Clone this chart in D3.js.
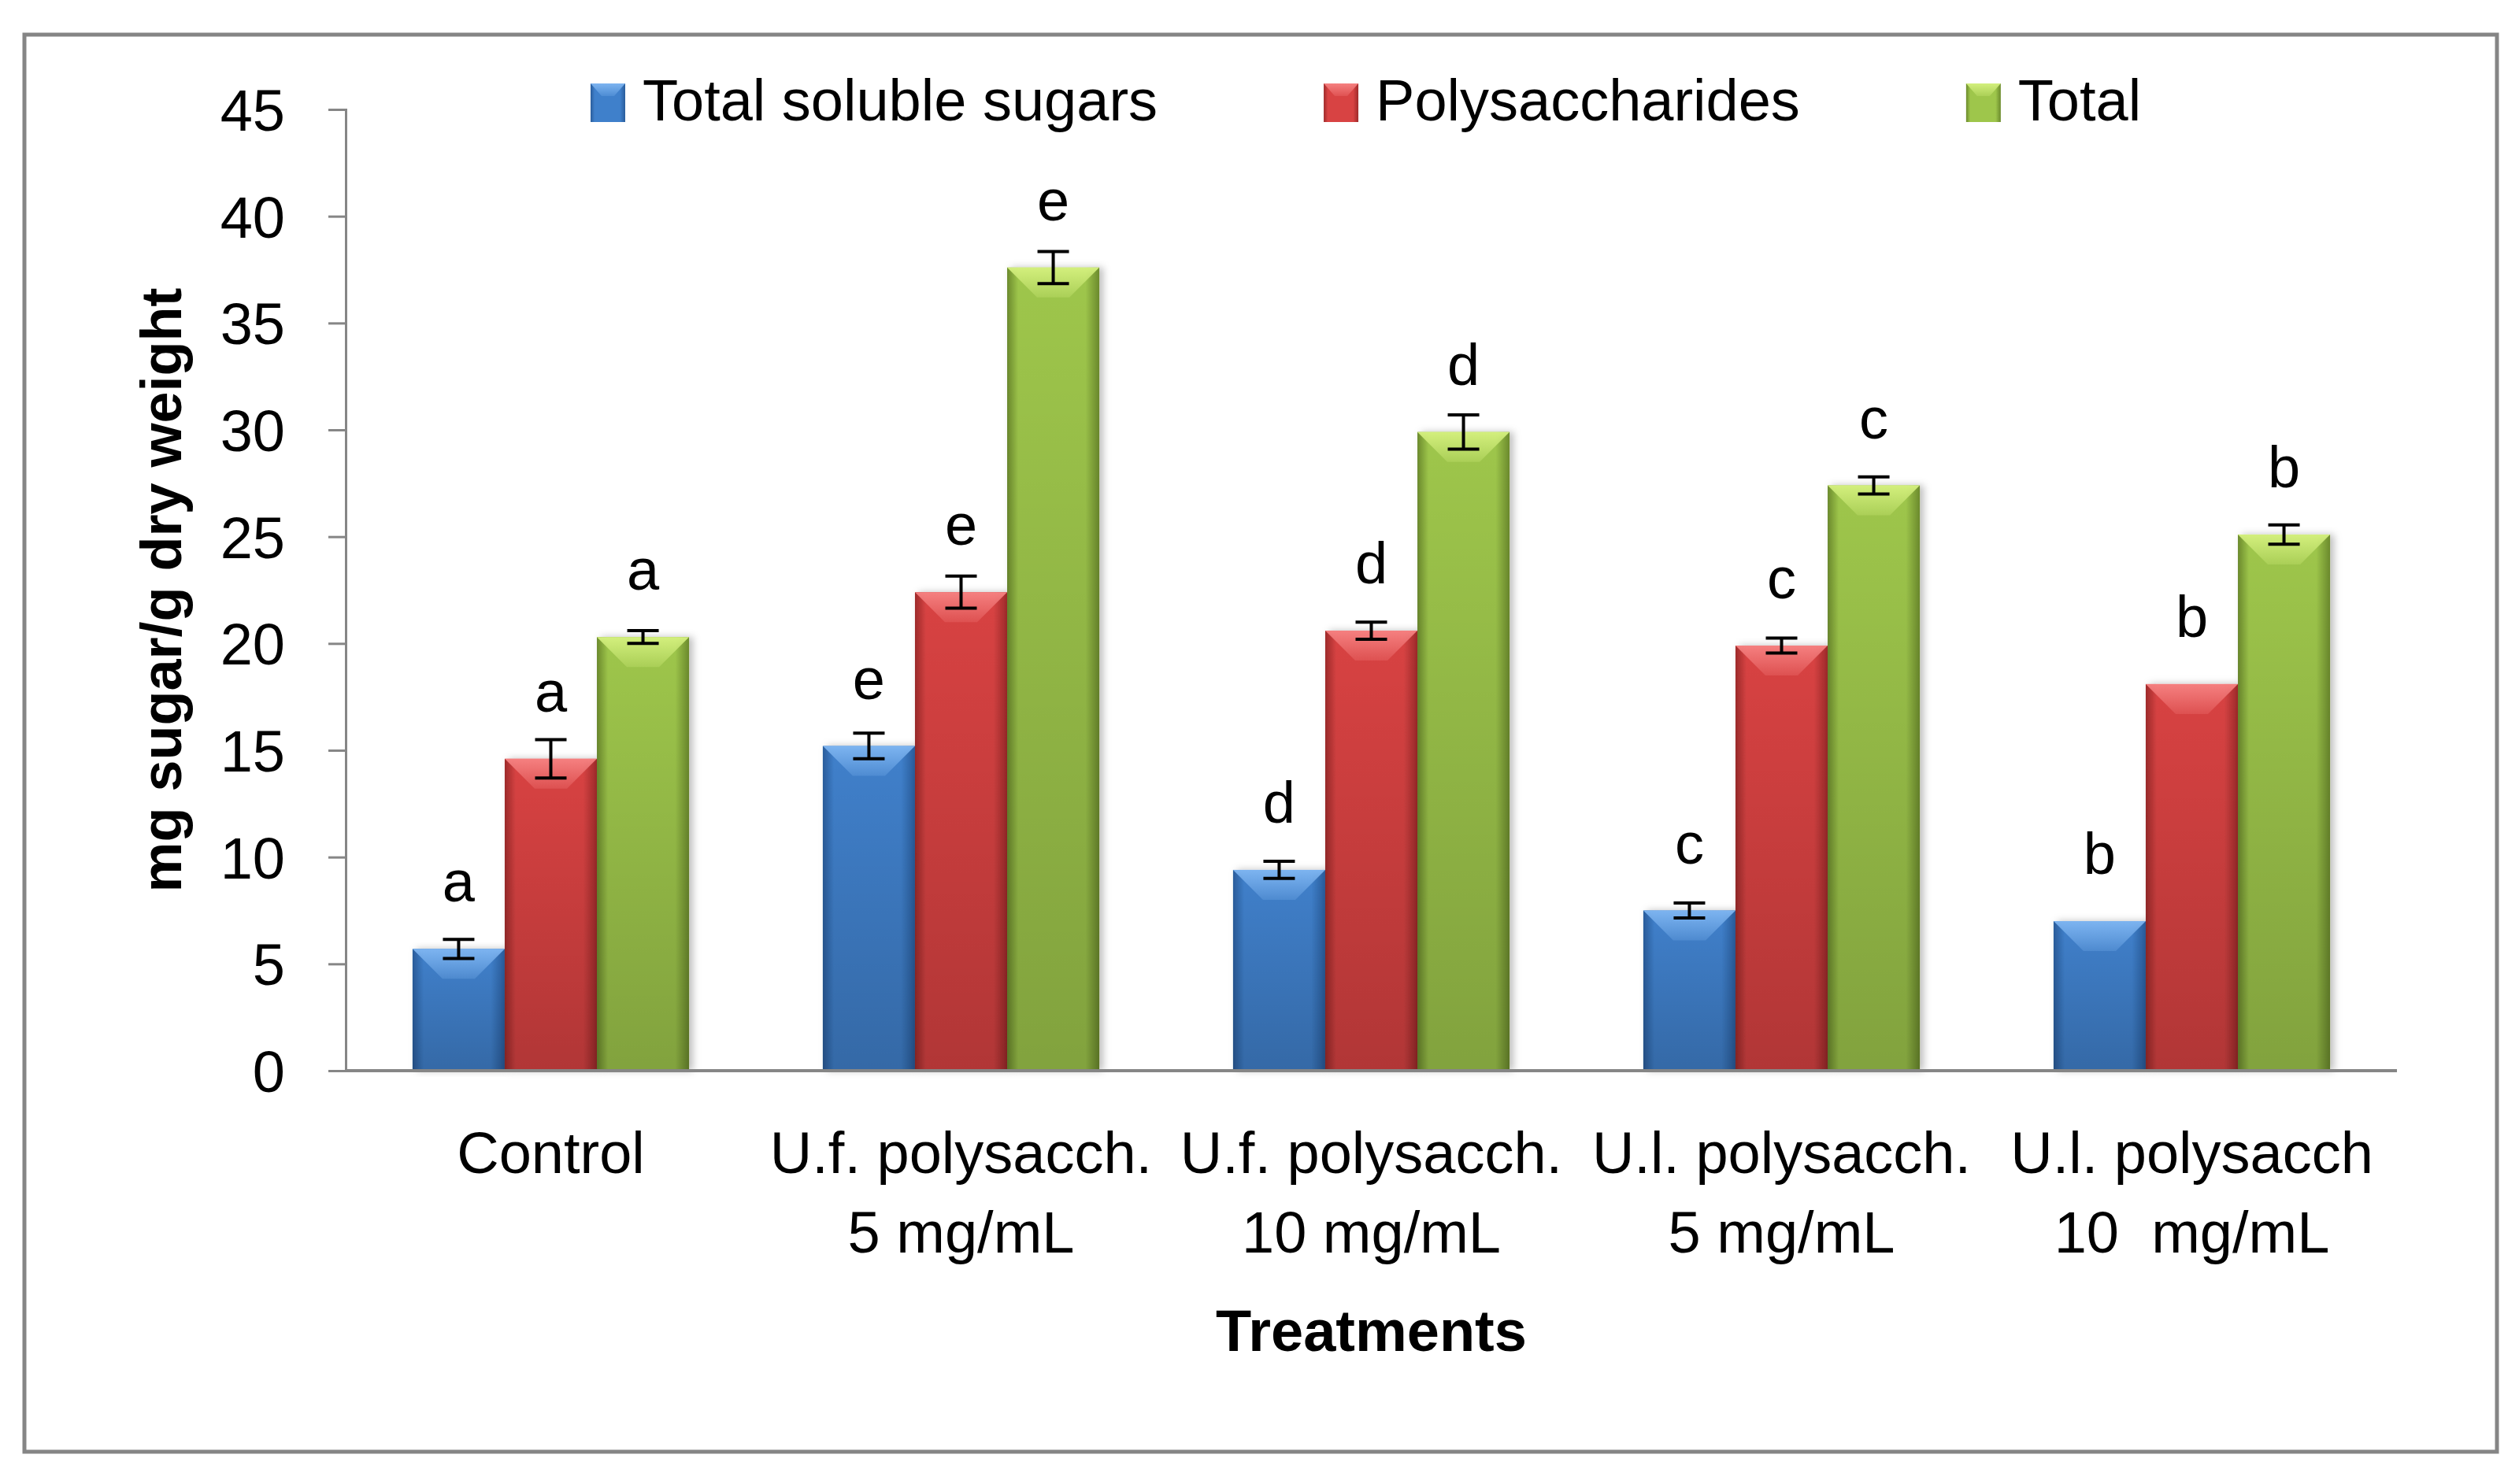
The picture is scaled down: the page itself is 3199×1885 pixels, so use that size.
<!DOCTYPE html>
<html>
<head>
<meta charset="utf-8">
<script src="https://cdn.jsdelivr.net/npm/d3@7"></script>
<style>
  body { margin: 0; background: #fff; }
  svg text { font-family: "Liberation Sans", Arial, sans-serif; fill: #000; }
</style>
</head>
<body>
<div id="chart"></div>
<script>
// treatments (two label lines each)
var categoryLine1 = ["Control", "U.f. polysacch.", "U.f. polysacch.", "U.l. polysacch.", "U.l. polysacch"];
var categoryLine2 = ["", "5 mg/mL", "10 mg/mL", "5 mg/mL", "10  mg/mL"];

var seriesNames = ["Total soluble sugars", "Polysaccharides", "Total"];

// mg sugar / g dry weight
var solubleSugars   = [5.7, 15.2, 9.4, 7.5, 7.0];
var polysaccharides = [14.6, 22.4, 20.6, 19.9, 18.1];
var totalSugars     = [20.3, 37.6, 29.9, 27.4, 25.1];

// standard errors
var solubleErr = [0.45, 0.6, 0.4, 0.35, 0];
var polyErr    = [0.9, 0.75, 0.4, 0.35, 0];
var totalErr   = [0.3, 0.75, 0.8, 0.4, 0.45];

// significance letters
var letters = ["a", "e", "d", "c", "b"];

var yTicks = [0, 5, 10, 15, 20, 25, 30, 35, 40, 45];

var W = 3199, H = 1885;
var margin = {top: 139, right: 155, bottom: 525, left: 439};

var svg = d3.select("#chart").append("svg")
    .attr("width", W)
    .attr("height", H);

var defs = svg.append("defs");

// colour sets: edge, middle, bevel highlight
var palette = [
    {edge: "#2a5d9c", mid: "#3f80cb", light: "#7db4f0"},
    {edge: "#9e2a2a", mid: "#d84343", light: "#f58080"},
    {edge: "#6b8a2c", mid: "#9ec64b", light: "#d3ef7d"}
];

palette.forEach(function(p, i) {
    var g = defs.append("linearGradient").attr("id", "side" + i)
        .attr("x1", 0).attr("x2", 1).attr("y1", 0).attr("y2", 0);
    g.append("stop").attr("offset", "0%").attr("stop-color", p.edge);
    g.append("stop").attr("offset", "12%").attr("stop-color", p.mid);
    g.append("stop").attr("offset", "85%").attr("stop-color", p.mid);
    g.append("stop").attr("offset", "100%").attr("stop-color", p.edge);

    var b = defs.append("linearGradient").attr("id", "bevel" + i)
        .attr("x1", 0).attr("x2", 0).attr("y1", 0).attr("y2", 1);
    b.append("stop").attr("offset", "0%").attr("stop-color", p.light).attr("stop-opacity", 1);
    b.append("stop").attr("offset", "100%").attr("stop-color", p.light).attr("stop-opacity", 0.25);
});

var shade = defs.append("linearGradient").attr("id", "shade")
    .attr("x1", 0).attr("x2", 0).attr("y1", 0).attr("y2", 1);
shade.append("stop").attr("offset", "0%").attr("stop-color", "#000").attr("stop-opacity", 0);
shade.append("stop").attr("offset", "100%").attr("stop-color", "#000").attr("stop-opacity", 0.18);

var shadow = defs.append("filter").attr("id", "shadow")
    .attr("x", "-20%").attr("y", "-5%").attr("width", "140%").attr("height", "110%");
shadow.append("feDropShadow").attr("dx", 5).attr("dy", 0)
    .attr("stdDeviation", 5).attr("flood-color", "#000").attr("flood-opacity", 0.25);

// outer frame
svg.append("rect")
    .attr("x", 31).attr("y", 44)
    .attr("width", 3140).attr("height", 1800)
    .attr("fill", "#fff")
    .attr("stroke", "#858585")
    .attr("stroke-width", 5);

var x0 = d3.scaleBand()
    .domain(d3.range(categoryLine1.length))
    .range([margin.left, W - margin.right])
    .paddingInner(0.326)
    .paddingOuter(0.163);

var x1 = d3.scaleBand()
    .domain(d3.range(seriesNames.length))
    .range([0, x0.bandwidth()]);

var y = d3.scaleLinear()
    .domain([0, 45])
    .range([H - margin.bottom, margin.top]);

var values = [solubleSugars, polysaccharides, totalSugars];
var errors = [solubleErr, polyErr, totalErr];

// y axis
var yAxis = svg.append("g")
    .attr("transform", "translate(" + margin.left + ",0)")
    .call(d3.axisLeft(y).tickValues(yTicks).tickSize(22).tickPadding(55));
yAxis.selectAll("line").attr("stroke", "#868686").attr("stroke-width", 3);
yAxis.select(".domain").attr("stroke", "#868686").attr("stroke-width", 3);
yAxis.selectAll("text")
    .attr("font-size", 74)
    .attr("dy", "0.36em")
    .style("font-family", "'Liberation Sans', Arial, sans-serif");

// bars
var groups = svg.selectAll(".grp")
    .data(d3.range(categoryLine1.length))
    .enter().append("g")
    .attr("class", "grp")
    .attr("transform", function(i) { return "translate(" + x0(i) + ",0)"; });

var barData = function(i) {
    return seriesNames.map(function(s, k) {
        return {k: k, v: values[k][i], e: errors[k][i], l: letters[i]};
    });
};

var bars = groups.selectAll(".bar")
    .data(barData)
    .enter().append("g")
    .attr("class", "bar");

bars.append("rect")
    .attr("x", function(d) { return x1(d.k); })
    .attr("y", function(d) { return y(d.v); })
    .attr("width", x1.bandwidth())
    .attr("height", function(d) { return y(0) - y(d.v); })
    .attr("fill", function(d) { return "url(#side" + d.k + ")"; })
    .attr("filter", "url(#shadow)");

bars.append("rect")
    .attr("x", function(d) { return x1(d.k); })
    .attr("y", function(d) { return y(d.v); })
    .attr("width", x1.bandwidth())
    .attr("height", function(d) { return y(0) - y(d.v); })
    .attr("fill", "url(#shade)");

var bev = 38;
bars.append("path")
    .attr("d", function(d) {
        var bx = x1(d.k), bw = x1.bandwidth(), by = y(d.v);
        return "M" + bx + "," + by + "L" + (bx + bw) + "," + by +
            "L" + (bx + bw - bev) + "," + (by + bev) + "L" + (bx + bev) + "," + (by + bev) + "Z";
    })
    .attr("fill", function(d) { return "url(#bevel" + d.k + ")"; });

// error bars
var errs = bars.filter(function(d) { return d.e > 0; }).append("g")
    .attr("stroke", "#000").attr("stroke-width", 4);
errs.append("line")
    .attr("x1", function(d) { return x1(d.k) + x1.bandwidth() / 2; })
    .attr("x2", function(d) { return x1(d.k) + x1.bandwidth() / 2; })
    .attr("y1", function(d) { return y(d.v + d.e); })
    .attr("y2", function(d) { return y(d.v - d.e); });
[1, -1].forEach(function(sgn) {
    errs.append("line")
        .attr("x1", function(d) { return x1(d.k) + x1.bandwidth() / 2 - 20; })
        .attr("x2", function(d) { return x1(d.k) + x1.bandwidth() / 2 + 20; })
        .attr("y1", function(d) { return y(d.v + sgn * d.e); })
        .attr("y2", function(d) { return y(d.v + sgn * d.e); });
});

// significance letters
bars.append("text")
    .attr("x", function(d) { return x1(d.k) + x1.bandwidth() / 2; })
    .attr("y", function(d) { return y(d.v) - 60; })
    .attr("text-anchor", "middle")
    .attr("font-size", 74)
    .text(function(d) { return d.l; });

// x axis line
svg.append("line")
    .attr("x1", margin.left).attr("x2", W - margin.right)
    .attr("y1", y(0)).attr("y2", y(0))
    .attr("stroke", "#868686").attr("stroke-width", 4);

// category labels
var catLabels = svg.selectAll(".cat")
    .data(d3.range(categoryLine1.length))
    .enter().append("text")
    .attr("class", "cat")
    .attr("text-anchor", "middle")
    .attr("font-size", 74)
    .style("white-space", "pre")
    .attr("xml:space", "preserve");
catLabels.append("tspan")
    .attr("x", function(i) { return x0(i) + x0.bandwidth() / 2; })
    .attr("y", 1490)
    .text(function(i) { return categoryLine1[i]; });
catLabels.append("tspan")
    .attr("x", function(i) { return x0(i) + x0.bandwidth() / 2; })
    .attr("y", 1591)
    .text(function(i) { return categoryLine2[i]; });

// axis titles
svg.append("text")
    .attr("x", (margin.left + W - margin.right) / 2)
    .attr("y", 1716)
    .attr("text-anchor", "middle")
    .attr("font-size", 74)
    .attr("font-weight", "bold")
    .text("Treatments");

svg.append("text")
    .attr("transform", "translate(230," + (y(0) + y(45)) / 2 + ") rotate(-90)")
    .attr("text-anchor", "middle")
    .attr("font-size", 72)
    .attr("font-weight", "bold")
    .text("mg sugar/g dry weight");

// legend
var legend = svg.append("g").attr("transform", "translate(750,0)");
var lx = 0;
seriesNames.forEach(function(name, k) {
    var item = legend.append("g").attr("transform", "translate(" + lx + ",0)");
    item.append("rect")
        .attr("x", 0).attr("y", 106).attr("width", 44).attr("height", 49)
        .attr("fill", "url(#side" + k + ")");
    item.append("path")
        .attr("d", "M0,106L44,106L30,122L14,122Z")
        .attr("fill", "url(#bevel" + k + ")");
    var t = item.append("text")
        .attr("x", 66).attr("y", 153)
        .attr("font-size", 74)
        .text(name);
    lx += 66 + t.node().getComputedTextLength() + 211;
});
</script>
</body>
</html>
